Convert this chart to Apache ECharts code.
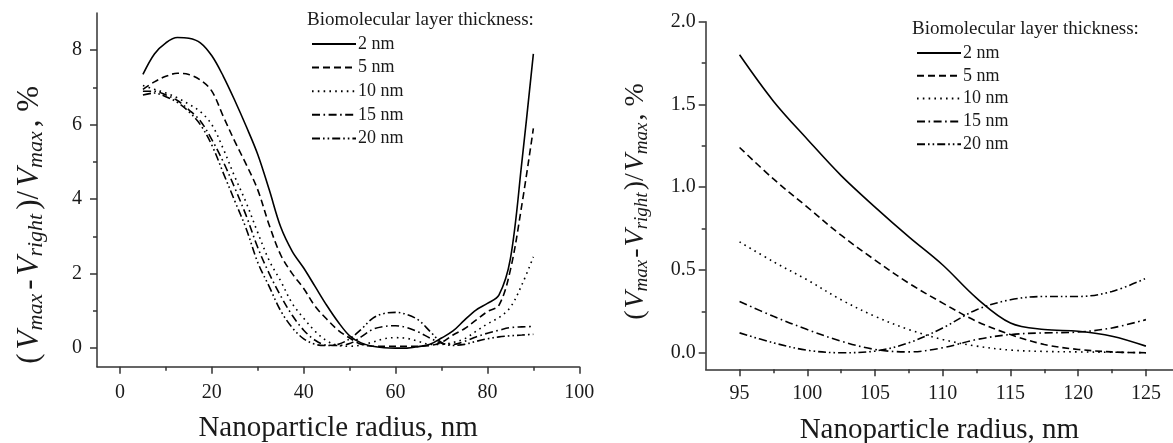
<!DOCTYPE html>
<html>
<head>
<meta charset="utf-8">
<script src="https://cdn.jsdelivr.net/npm/echarts@6/dist/echarts.min.js"></script>
<style>
  html, body { margin: 0; padding: 0; background: #fff; }
  #chart { width: 1173px; height: 443px; }
</style>
</head>
<body>
<div id="chart"></div>
<script>
// layer thickness labels (legend)
var layerNames = ["2 nm", "5 nm", "10 nm", "15 nm", "20 nm"];

// left panel: radius 5..90 nm
var radiusLeft = [5, 7.5, 10, 12.5, 15, 17.5, 20, 22.5, 25, 27.5, 30, 32.5, 35, 37.5, 40, 42.5, 45, 47.5, 50,
  52.5, 55, 57.5, 60, 62.5, 65, 67.5, 70, 72.5, 75, 77.5, 80, 82.5, 85, 87.5, 90];
var left2 = [7.35, 7.9, 8.2, 8.34, 8.32, 8.2, 7.85, 7.3, 6.65, 5.95, 5.2, 4.25, 3.25, 2.6, 2.15, 1.65, 1.15, 0.7, 0.33,
  0.14, 0.05, 0.01, 0.0, 0.0, 0.04, 0.1, 0.27, 0.46, 0.75, 1.02, 1.2, 1.42, 2.4, 5.0, 7.9];
var left5 = [6.95, 7.15, 7.3, 7.38, 7.35, 7.2, 6.9, 6.22, 5.55, 4.93, 4.25, 3.3, 2.5, 2.0, 1.6, 1.12, 0.78, 0.48, 0.27,
  0.1, 0.05, 0.05, 0.05, 0.05, 0.05, 0.07, 0.15, 0.35, 0.52, 0.75, 0.98, 1.15, 2.1, 3.85, 5.9];
var left10 = [7.05, 6.95, 6.85, 6.72, 6.55, 6.35, 6.0, 5.35, 4.6, 3.9, 3.1, 2.35, 1.8, 1.2, 0.8, 0.45, 0.2, 0.07, 0.05,
  0.08, 0.16, 0.25, 0.28, 0.26, 0.18, 0.1, 0.1, 0.15, 0.25, 0.45, 0.65, 0.82, 1.1, 1.7, 2.45];
var left15 = [6.9, 6.9, 6.8, 6.65, 6.4, 6.1, 5.6, 5.0, 4.3, 3.55, 2.7, 2.0, 1.4, 0.88, 0.48, 0.21, 0.08, 0.07, 0.12,
  0.3, 0.5, 0.58, 0.6, 0.55, 0.43, 0.27, 0.13, 0.1, 0.18, 0.3, 0.4, 0.48, 0.55, 0.57, 0.58];
var left20 = [6.8, 6.85, 6.75, 6.6, 6.35, 6.0, 5.45, 4.7, 3.95, 3.2, 2.3, 1.65, 1.0, 0.55, 0.25, 0.1, 0.07, 0.1, 0.25,
  0.5, 0.8, 0.93, 0.96, 0.9, 0.75, 0.45, 0.15, 0.07, 0.1, 0.18, 0.25, 0.3, 0.33, 0.35, 0.37];

// right panel: radius 95..125 nm
var radiusRight = [95, 97.5, 100, 102.5, 105, 107.5, 110, 112.5, 115, 117.5, 120, 122.5, 125];
var right2 = [1.8, 1.52, 1.29, 1.07, 0.88, 0.7, 0.53, 0.33, 0.18, 0.14, 0.13, 0.1, 0.04];
var right5 = [1.24, 1.05, 0.88, 0.71, 0.56, 0.42, 0.3, 0.19, 0.11, 0.05, 0.02, 0.005, 0.0];
var right10 = [0.67, 0.55, 0.44, 0.32, 0.22, 0.14, 0.08, 0.04, 0.016, 0.008, 0.005, 0.003, 0.0];
var right15 = [0.31, 0.22, 0.14, 0.07, 0.02, 0.005, 0.03, 0.08, 0.11, 0.12, 0.125, 0.15, 0.2];
var right20 = [0.12, 0.06, 0.015, 0.0, 0.01, 0.06, 0.15, 0.26, 0.32, 0.34, 0.34, 0.37, 0.45];

// tick labels
var leftXTicks = [0, 20, 40, 60, 80, 100];
var leftXMinor = [10, 30, 50, 70, 90];
var leftYTicks = [0, 2, 4, 6, 8];
var leftYMinor = [1, 3, 5, 7];
var rightXTicks = [95, 100, 105, 110, 115, 120, 125];
var rightXMinor = [97.5, 102.5, 107.5, 112.5, 117.5, 122.5];
var rightYTicks = [0, 0.5, 1.0, 1.5, 2.0];
var rightYMinor = [0.25, 0.75, 1.25, 1.75];

var FONT = "Liberation Serif";
var INK = "#1a1a1a";
var AXIS = "#333";
var dashes = ["solid", [7, 4], [1.6, 4.2], [8, 3.5, 1.6, 3.5], [8, 3, 1.6, 3, 1.6, 3]];

function pairs(xs, ys) {
  return xs.map(function (x, i) { return [x, ys[i]]; });
}

function mainAxis(gridIndex, min, max, ticks, margin, isX, fmt) {
  return {
    type: "value",
    gridIndex: gridIndex,
    min: min,
    max: max,
    position: isX ? "bottom" : "left",
    axisLine: { show: true, onZero: false, lineStyle: { color: AXIS, width: 1.5 } },
    axisTick: { show: true, length: 7, customValues: ticks, lineStyle: { color: AXIS, width: 1.5 } },
    axisLabel: {
      show: true, customValues: ticks, margin: margin,
      fontFamily: FONT, fontSize: 20, color: INK,
      formatter: fmt
    },
    splitLine: { show: false }
  };
}

function minorAxis(gridIndex, min, max, ticks, isX) {
  return {
    type: "value",
    gridIndex: gridIndex,
    min: min,
    max: max,
    position: isX ? "bottom" : "left",
    axisLine: { show: false, onZero: false },
    axisTick: { show: true, length: 4, customValues: ticks, lineStyle: { color: AXIS, width: 1.5 } },
    axisLabel: { show: false },
    splitLine: { show: false }
  };
}

var yName = "{p|(}{v|V}{s|max}{p|-}{v|V}{s|right}{p|)/}{v|V}{s|max}{p|, %}";
function yRich(big, small, pad) {
  return {
    p: { fontFamily: FONT, fontSize: big, lineHeight: big + 4, color: INK, padding: [0, pad, 0, pad] },
    v: { fontFamily: FONT, fontSize: big, lineHeight: big + 4, fontStyle: "italic", color: INK, padding: [0, 0, 0, pad] },
    s: { fontFamily: FONT, fontSize: small, fontStyle: "italic", verticalAlign: "bottom", color: INK, padding: [0, pad, 0, 0] }
  };
}

var chart = echarts.init(document.getElementById("chart"));

var leftSets = [left2, left5, left10, left15, left20];
var rightSets = [right2, right5, right10, right15, right20];
var series = [];
leftSets.forEach(function (ys, i) {
  series.push({
    name: layerNames[i], type: "line", xAxisIndex: 0, yAxisIndex: 0,
    data: pairs(radiusLeft, ys), smooth: 0.35, symbol: "none", showSymbol: false,
    lineStyle: { color: "#000", width: 1.6, type: dashes[i] },
    itemStyle: { color: "#000" }
  });
});
rightSets.forEach(function (ys, i) {
  series.push({
    name: layerNames[i], type: "line", xAxisIndex: 2, yAxisIndex: 2,
    data: pairs(radiusRight, ys), smooth: 0.35, symbol: "none", showSymbol: false,
    lineStyle: { color: "#000", width: 1.6, type: dashes[i] },
    itemStyle: { color: "#000" }
  });
});

var xAxes = [
  mainAxis(0, -5, 100, leftXTicks, 16, true),
  minorAxis(0, -5, 100, leftXMinor, true),
  mainAxis(1, 92.5, 127, rightXTicks, 14, true),
  minorAxis(1, 92.5, 127, rightXMinor, true)
];
var yAxes = [
  mainAxis(0, -0.5, 9, leftYTicks, 15, false),
  minorAxis(0, -0.5, 9, leftYMinor, false),
  mainAxis(1, -0.1, 2.0, rightYTicks, 10, false, function (v) { return v.toFixed(1); }),
  minorAxis(1, -0.1, 2.0, rightYMinor, false)
];

[0, 2].forEach(function (k) {
  xAxes[k].name = "Nanoparticle radius, nm";
  xAxes[k].nameLocation = "middle";
  xAxes[k].nameGap = 47;
  xAxes[k].nameTextStyle = { fontFamily: FONT, fontSize: 29, color: INK };
  yAxes[k].name = yName;
  yAxes[k].nameLocation = "middle";
  yAxes[k].nameRotate = 90;
});
yAxes[0].nameGap = 50;
yAxes[0].nameTextStyle = { rich: yRich(31, 22, 2), padding: [0, 70, 0, 0] };
yAxes[2].nameGap = 54;
yAxes[2].nameTextStyle = { rich: yRich(28, 19, 1), padding: [0, 12, 0, 0] };

function legendAt(left, top, gap) {
  return {
    data: layerNames,
    orient: "vertical",
    left: left,
    top: top,
    itemWidth: 44,
    itemHeight: 14,
    itemGap: gap,
    selectedMode: false,
    itemStyle: { opacity: 0, borderWidth: 0 },
    textStyle: { fontFamily: FONT, fontSize: 18, color: INK, padding: [0, 0, 0, -3] }
  };
}

chart.setOption({
  animation: false,
  backgroundColor: "#fff",
  title: [
    { text: "Biomolecular layer thickness:", left: 307, top: 11, padding: 0,
      textStyle: { fontFamily: FONT, fontSize: 19, fontWeight: "normal", color: INK } },
    { text: "Biomolecular layer thickness:", left: 912, top: 20, padding: 0,
      textStyle: { fontFamily: FONT, fontSize: 19, fontWeight: "normal", color: INK } }
  ],
  legend: [legendAt(306, 30, 5.6), legendAt(911, 39, 4.8)],
  grid: [
    { left: 97, top: 13, width: 482.3, height: 353.7, outerBoundsMode: "none", containLabel: false },
    { left: 705.7, top: 21.7, width: 467.3, height: 347.6, outerBoundsMode: "none", containLabel: false }
  ],
  xAxis: xAxes,
  yAxis: yAxes,
  series: series
});
</script>
</body>
</html>
